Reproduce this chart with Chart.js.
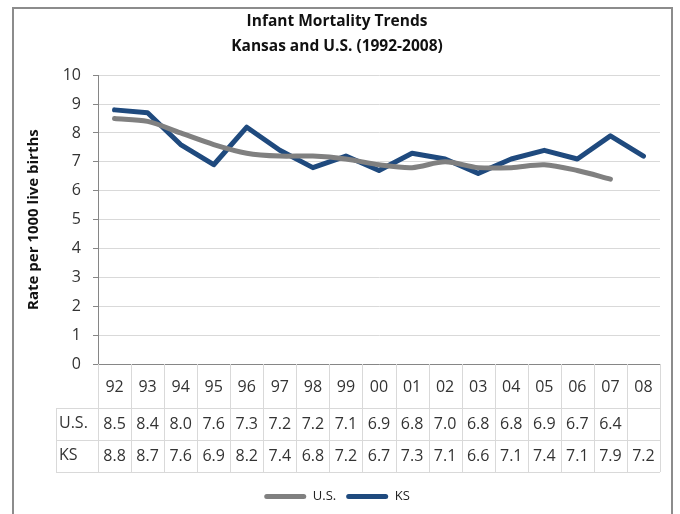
<!DOCTYPE html>
<html>
<head>
<meta charset="utf-8">
<script src="https://cdn.jsdelivr.net/npm/chart.js@4/dist/chart.umd.min.js"></script>
<style>
  html, body { margin: 0; padding: 0; background: #fff; }
  #wrap { width: 680px; height: 514px; }
</style>
</head>
<body>
<div id="wrap"><canvas id="myChart" width="680" height="514"></canvas></div>
<script>
// data
var years = ['92', '93', '94', '95', '96', '97', '98', '99', '00', '01', '02', '03', '04', '05', '06', '07', '08'];
var usRate = [8.5, 8.4, 8.0, 7.6, 7.3, 7.2, 7.2, 7.1, 6.9, 6.8, 7.0, 6.8, 6.8, 6.9, 6.7, 6.4, null];
var ksRate = [8.8, 8.7, 7.6, 6.9, 8.2, 7.4, 6.8, 7.2, 6.7, 7.3, 7.1, 6.6, 7.1, 7.4, 7.1, 7.9, 7.2];
var yTicks = [0, 1, 2, 3, 4, 5, 6, 7, 8, 9, 10];

Chart.defaults.font.family = "'Open Sans', sans-serif";
Chart.defaults.color = '#333';

var gridColor = '#d9d9d9';
var axisColor = '#868686';

// frame round the whole chart
var framePlugin = {
    id: 'frame',
    beforeDraw: function (chart) {
        var ctx = chart.ctx;
        ctx.save();
        ctx.fillStyle = '#fff';
        ctx.fillRect(0, 0, chart.width, chart.height);
        ctx.strokeStyle = '#8c8c8c';
        ctx.lineWidth = 2;
        ctx.strokeRect(13, 8, 659, 530);
        ctx.restore();
    }
};

// data table under the x axis, placed from the x scale
var tablePlugin = {
    id: 'dataTable',
    afterDraw: function (chart) {
        var ctx = chart.ctx;
        var x = chart.scales.x;
        var top = chart.chartArea.bottom;
        var step = (x.right - x.left) / years.length;
        var rows = [top, top + 44, top + 76, top + 108];
        var labelLeft = 56;

        ctx.save();
        ctx.strokeStyle = gridColor;
        ctx.lineWidth = 1;
        ctx.beginPath();
        // vertical lines at category edges
        for (var i = 0; i <= years.length; i++) {
            var px = Math.round(x.left + i * step) + 0.5;
            ctx.moveTo(px, rows[0]);
            ctx.lineTo(px, rows[3]);
        }
        // row lines
        for (var r = 1; r < rows.length; r++) {
            ctx.moveTo(labelLeft, rows[r] + 0.5);
            ctx.lineTo(x.right, rows[r] + 0.5);
        }
        ctx.moveTo(labelLeft + 0.5, rows[1]);
        ctx.lineTo(labelLeft + 0.5, rows[3]);
        ctx.stroke();

        ctx.fillStyle = '#333';
        ctx.textBaseline = 'middle';
        ctx.font = "16px 'Open Sans', sans-serif";
        ctx.textAlign = 'center';
        years.forEach(function (yr, i) {
            var cx = x.getPixelForValue(i);
            ctx.fillText(yr, cx, (rows[0] + rows[1]) / 2 + 1);
            if (usRate[i] != null) ctx.fillText(usRate[i].toFixed(1), cx, (rows[1] + rows[2]) / 2);
            if (ksRate[i] != null) ctx.fillText(ksRate[i].toFixed(1), cx, (rows[2] + rows[3]) / 2);
        });
        ctx.textAlign = 'left';
        ctx.fillText(chart.data.datasets[0].label, labelLeft + 3, (rows[1] + rows[2]) / 2 - 1);
        ctx.fillText(chart.data.datasets[1].label, labelLeft + 3, (rows[2] + rows[3]) / 2 - 1);
        ctx.restore();
    }
};

var ctx = document.getElementById('myChart');
var myChart = new Chart(ctx, {
    type: 'line',
    data: {
        labels: years,
        datasets: [
            {
                label: 'U.S.',
                data: usRate,
                borderColor: '#808080',
                backgroundColor: '#808080',
                borderWidth: 5,
                tension: 0.3,
                pointRadius: 0,
                borderCapStyle: 'round',
                borderJoinStyle: 'round'
            },
            {
                label: 'KS',
                data: ksRate,
                borderColor: '#1f4a7e',
                backgroundColor: '#1f4a7e',
                borderWidth: 5,
                tension: 0,
                pointRadius: 0,
                borderCapStyle: 'round',
                borderJoinStyle: 'round'
            }
        ]
    },
    options: {
        responsive: false,
        animation: false,
        layout: {
            padding: { left: 14, right: 20, top: 0, bottom: 1 }
        },
        plugins: {
            title: {
                display: true,
                text: ['Infant Mortality Trends', 'Kansas and U.S. (1992-2008)'],
                color: '#111',
                font: { size: 15.5, weight: 'bold', lineHeight: 1.62 },
                padding: { top: 9, bottom: 16 }
            },
            legend: {
                position: 'bottom',
                labels: {
                    boxWidth: 42,
                    boxHeight: 5,
                    padding: 10,
                    color: '#222',
                    font: { size: 13 },
                    useBorderRadius: true,
                    borderRadius: 2.5,
                    generateLabels: function (chart) {
                        var items = Chart.defaults.plugins.legend.labels.generateLabels(chart);
                        items.forEach(function (it) { it.lineWidth = 0; });
                        return items;
                    }
                }
            },
            tooltip: { enabled: false }
        },
        scales: {
            x: {
                offset: true,
                ticks: { display: false },
                grid: { display: false },
                border: { display: true, color: axisColor, width: 1 },
                afterFit: function (scale) { scale.height = 116; }
            },
            y: {
                min: 0,
                max: 10,
                afterBuildTicks: function (scale) {
                    scale.ticks = yTicks.map(function (v) { return { value: v }; });
                },
                afterFit: function (scale) { scale.width = 84; },
                ticks: {
                    padding: 12,
                    color: '#333',
                    font: { size: 16 }
                },
                grid: {
                    color: gridColor,
                    tickLength: 5,
                    tickColor: axisColor
                },
                border: { display: true, color: axisColor, width: 1 },
                title: {
                    display: true,
                    text: 'Rate per 1000 live births',
                    color: '#111',
                    font: { size: 15, weight: 'bold' },
                    padding: { top: 11, bottom: 0 }
                }
            }
        }
    },
    plugins: [framePlugin, tablePlugin]
});
</script>
</body>
</html>
